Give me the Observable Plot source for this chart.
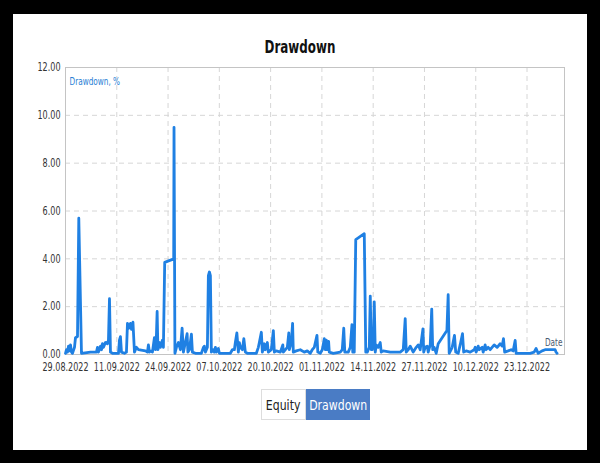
<!DOCTYPE html>
<html>
<head>
<meta charset="utf-8">
<script src="https://cdn.jsdelivr.net/npm/d3@7"></script>
<script src="https://cdn.jsdelivr.net/npm/@observablehq/plot@0.6"></script>
<style>
  html, body { margin: 0; padding: 0; width: 600px; height: 463px; background: #000; overflow: hidden; }
  body { position: relative; font-family: "DejaVu Sans", sans-serif; }
  #panel { position: absolute; left: 13px; top: 14px; width: 574px; height: 436px; background: #fff; }
  #title { position: absolute; left: 0; top: 37px; width: 600px; text-align: center; font-size: 17px; font-weight: bold; color: #111; transform: scaleX(0.7); transform-origin: 300px 0; }
  #chart { position: absolute; left: 0; top: 50px; }
  #buttons { position: absolute; top: 389px; left: 261px; display: flex; font-size: 14px; }
  #buttons div { height: 31px; box-sizing: border-box; display: flex; align-items: center; justify-content: center; overflow: visible; }
  #buttons span { display: inline-block; transform: scaleX(0.78); white-space: nowrap; }
  #b1 { width: 45px; border: 1px solid #ddd; background: #fff; color: #222; }
  #b2 { width: 64px; background: #4a7cc5; color: #fff; }
</style>
</head>
<body>
<div id="panel"></div>
<div id="title"></div>
<div id="chart"></div>
<div id="buttons"><div id="b1"><span>Equity</span></div><div id="b2"><span>Drawdown</span></div></div>
<script>
const titleText = "Drawdown";
const seriesLabel = "Drawdown, %";
const xAxisLabel = "Date";
const tickDays = [0, 13, 26, 39, 52, 65, 78, 91, 104, 117];
const tickLabels = ["29.08.2022", "11.09.2022", "24.09.2022", "07.10.2022", "20.10.2022", "01.11.2022", "14.11.2022", "27.11.2022", "10.12.2022", "23.12.2022"];
const yTicks = [0, 2, 4, 6, 8, 10, 12];

const dayOffsets = [
  0.0, 0.25, 0.5, 0.76, 1.01, 1.27, 1.52, 1.77, 2.28, 2.53, 3.04, 3.37, 4.05, 6.33, 7.85, 8.11, 8.36, 8.87, 9.12, 9.37,
  9.63, 10.13, 10.64, 10.89, 11.15, 11.4, 11.91, 13.43, 13.68, 13.93, 14.19, 14.95, 15.45, 15.71, 16.09, 16.47, 16.72, 17.1, 17.48, 17.99,
  18.49, 20.26, 20.77, 21.02, 21.28, 21.53, 22.04, 22.54, 22.8, 23.05, 23.23, 23.43, 23.81, 24.06, 24.57, 24.82, 25.15, 27.43, 27.51, 27.74,
  28.12, 28.62, 29.13, 29.56, 29.89, 30.14, 30.83, 31.03, 31.41, 31.92, 32.17, 32.93, 34.45, 34.96, 35.21, 35.46, 35.97, 36.22, 36.48, 36.73,
  36.98, 37.49, 37.74, 38.0, 38.25, 38.75, 39.01, 41.79, 42.3, 42.81, 43.06, 43.44, 43.82, 44.07, 44.33, 44.83, 45.21, 45.59, 46.1, 48.38,
  48.89, 49.14, 49.65, 49.9, 50.41, 50.66, 51.17, 51.42, 52.18, 52.69, 52.94, 53.45, 54.46, 55.09, 55.22, 56.23, 56.61, 56.74, 57.24, 57.57,
  57.75, 58.51, 59.52, 60.53, 61.29, 62.05, 62.56, 63.07, 63.75, 63.96, 64.59, 65.1, 65.61, 65.86, 66.11, 66.37, 66.7, 66.87, 67.88, 69.66,
  70.16, 70.54, 70.8, 71.68, 72.19, 72.62, 72.82, 73.2, 73.58, 75.74, 76.12, 76.5, 77.01, 77.26, 77.52, 77.77, 78.02, 78.27, 78.53, 78.78,
  79.28, 79.79, 80.04, 80.55, 82.32, 84.86, 85.62, 86.12, 86.38, 86.89, 87.39, 88.15, 88.91, 89.42, 89.92, 90.61, 90.81, 91.19, 91.7, 91.95,
  92.46, 92.84, 93.09, 93.47, 93.98, 94.48, 96.69, 97.01, 97.27, 98.03, 98.61, 98.92, 99.55, 100.05, 100.64, 100.94, 101.57, 102.59, 103.6, 103.86,
  104.11, 104.62, 104.87, 105.63, 105.89, 106.39, 106.64, 107.15, 107.66, 108.67, 109.43, 110.19, 110.7, 111.03, 111.33, 112.22, 112.97, 113.48, 113.99, 114.24,
  117.78, 118.8, 119.3, 119.81, 120.82, 121.58, 124.12, 124.37, 124.63
];
const drawdown = [
  0.05, 0.2, 0.1, 0.35, 0.15, 0.4, 0.1, 0.05, 0.3, 0.7, 0.75, 5.7, 0.05, 0.1, 0.1, 0.3, 0.1, 0.35, 0.2, 0.45,
  0.3, 0.5, 0.45, 0.6, 2.33, 0.1, 0.05, 0.05, 0.6, 0.75, 0.1, 0.05, 0.1, 1.3, 1.1, 1.3, 1.05, 1.35, 0.1, 0.3,
  0.2, 0.15, 0.1, 0.4, 0.1, 0.15, 0.1, 0.7, 0.2, 0.8, 1.8, 0.2, 0.5, 0.3, 0.6, 0.3, 3.85, 4.0, 9.5, 0.05,
  0.3, 0.5, 0.2, 1.1, 0.1, 0.3, 0.87, 0.1, 0.2, 0.85, 0.1, 0.05, 0.05, 0.3, 0.35, 0.1, 0.3, 3.3, 3.45, 3.3,
  0.1, 0.2, 0.1, 0.3, 0.1, 0.25, 0.05, 0.05, 0.2, 0.2, 0.5, 0.9, 0.1, 0.5, 0.3, 0.2, 0.66, 0.1, 0.05, 0.05,
  0.3, 0.5, 0.93, 0.1, 0.45, 0.2, 0.5, 0.1, 0.2, 1.0, 0.1, 0.15, 0.1, 0.4, 0.1, 0.3, 0.9, 0.2, 0.5, 1.3,
  0.1, 0.15, 0.2, 0.1, 0.15, 0.05, 0.2, 0.3, 0.8, 0.1, 0.05, 0.2, 0.66, 0.2, 0.6, 0.2, 0.55, 0.1, 0.05, 0.1,
  0.2, 1.1, 0.1, 0.1, 0.3, 1.25, 0.1, 0.1, 4.8, 5.05, 0.1, 0.1, 0.3, 2.44, 0.2, 0.2, 0.4, 2.2, 0.1, 0.4,
  0.3, 0.5, 0.1, 0.15, 0.1, 0.1, 0.2, 1.5, 0.1, 0.2, 0.35, 0.1, 0.3, 0.4, 0.2, 1.07, 0.1, 0.3, 0.35, 0.1,
  0.4, 1.9, 0.2, 0.3, 0.05, 0.45, 1.0, 2.5, 0.05, 0.3, 0.8, 0.1, 0.05, 0.4, 0.87, 0.1, 0.15, 0.1, 0.2, 0.3,
  0.1, 0.35, 0.2, 0.3, 0.1, 0.4, 0.2, 0.3, 0.2, 0.4, 0.3, 0.45, 0.35, 0.66, 0.1, 0.15, 0.2, 0.15, 0.59, 0.05,
  0.05, 0.1, 0.25, 0.05, 0.15, 0.2, 0.2, 0.1, 0.05
];

const data = dayOffsets.map((d, i) => ({day: d, dd: drawdown[i]}));
document.getElementById("title").textContent = titleText;

const chart = Plot.plot({
  width: 600,
  height: 340,
  marginTop: 17,
  marginBottom: 36,
  marginLeft: 65,
  marginRight: 36,
  style: {background: "transparent", fontFamily: '"DejaVu Sans", sans-serif', fontSize: "11.5px", color: "#333"},
  x: {
    domain: [0, 126.5],
    ticks: tickDays,
    tickFormat: d => tickLabels[tickDays.indexOf(d)],
    tickSize: 0,
    tickPadding: 8,
    label: null
  },
  y: {
    domain: [0, 12],
    ticks: yTicks,
    tickFormat: d3.format(".2f"),
    tickSize: 0,
    tickPadding: 5,
    label: null
  },
  marks: [
    Plot.ruleY(yTicks.slice(1), {stroke: "#d6d6d6", strokeDasharray: "5,4"}),
    Plot.ruleX(tickDays.slice(1), {stroke: "#d6d6d6", strokeDasharray: "5,4"}),
    Plot.frame({stroke: "#c4c4c4"}),
    Plot.line(data, {x: "day", y: "dd", stroke: "#1f80e3", strokeWidth: 2.8}),
    Plot.text([seriesLabel], {text: d => d, frameAnchor: "top-left", dx: 4, dy: 10, fill: "#2a7fd5", fontSize: 10.5, textAnchor: "start"}),
    Plot.text([xAxisLabel], {text: d => d, frameAnchor: "bottom-right", dx: -2, dy: -9, fill: "#4a5a70", fontSize: 10.5, textAnchor: "end"})
  ]
});
document.getElementById("chart").appendChild(chart);

// the reference typeface is a narrow one: squeeze every label horizontally about its anchor
const squeeze = 0.7;
Array.from(chart.querySelectorAll("text")).forEach(t => {
  const anchor = getComputedStyle(t).textAnchor;
  const bb = t.getBBox();
  const tf = t.transform && t.transform.baseVal.consolidate();
  const m = tf ? tf.matrix : {a: 1, e: 0};
  const left = m.a * bb.x + m.e;
  const w = m.a * bb.width;
  const ax = anchor === "end" ? left + w : anchor === "start" ? left : left + w / 2;
  const g = document.createElementNS("http://www.w3.org/2000/svg", "g");
  g.setAttribute("transform", `translate(${ax},0) scale(${squeeze},1) translate(${-ax},0)`);
  t.parentNode.insertBefore(g, t);
  g.appendChild(t);
});
</script>
</body>
</html>
